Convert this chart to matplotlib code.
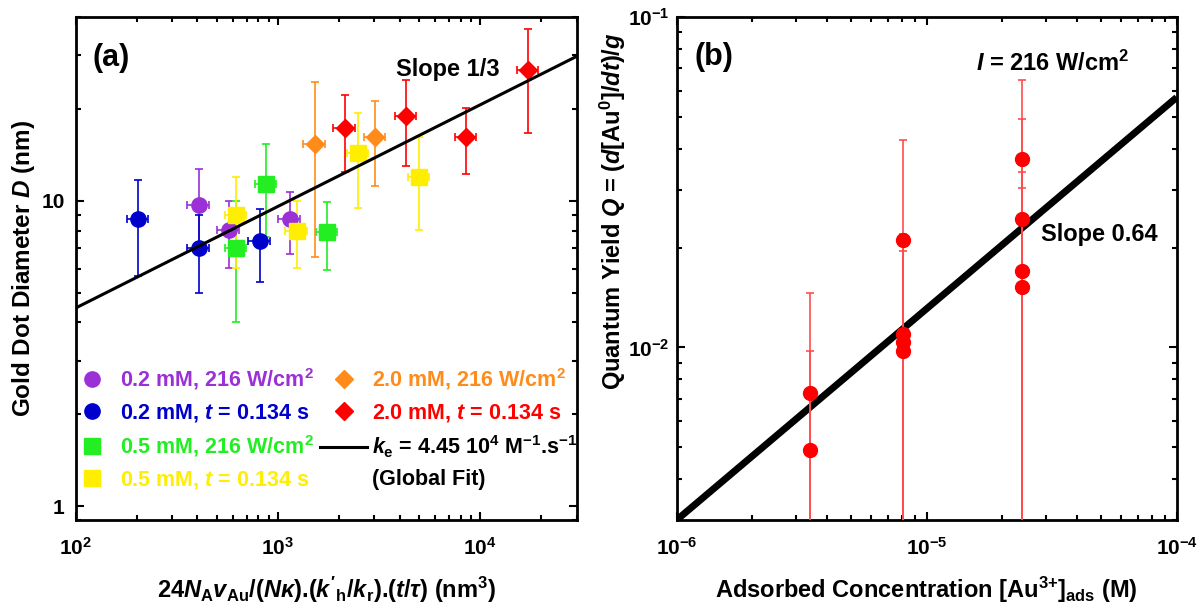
#!/usr/bin/env python3
"""
Gold dot size vs. growth parameter (a) and quantum yield vs. adsorbed
Au(III) concentration (b). Both panels log-log.

Output: out.png
"""
import numpy as np
import matplotlib
matplotlib.use('Agg')
import matplotlib.pyplot as plt
from matplotlib.lines import Line2D
from matplotlib.ticker import NullFormatter

# ---- panel (a) data: x in nm^3, D in nm, bar ends (low/high) in nm ----
purple_x = [405, 570, 1143]
purple_d = [9.7, 8.04, 8.73]
purple_lo = [7.3, 6.03, 6.71]
purple_hi = [12.7, 10.0, 10.7]

blue_x = [204, 405, 811]
blue_d = [8.73, 7.0, 7.42]
blue_lo = [5.69, 4.99, 5.41]
blue_hi = [11.7, 9.0, 9.4]

green_x = [621, 877, 1754]
green_d = [7.0, 11.4, 7.9]
green_lo = [4.0, 7.6, 5.92]
green_hi = [10.0, 15.4, 9.9]

yellow_x = [621, 1236, 2483, 4966]
yellow_d = [9.0, 7.98, 14.4, 12.0]
yellow_lo = [6.03, 6.03, 9.5, 8.04]
yellow_hi = [12.0, 10.0, 19.5, 16.2]

orange_x = [1517, 3034]
orange_d = [15.4, 16.2]
orange_lo = [6.53, 11.2]
orange_hi = [24.5, 21.2]

red_x = [2138, 4285, 8551, 17180]
red_d = [17.3, 19.0, 16.2, 26.8]
red_lo = [12.4, 13.0, 12.3, 16.7]
red_hi = [22.3, 25.0, 20.2, 36.5]

x_rel_err = 0.12  # horizontal bars, fraction of x

# global fit line (slope 1/3), end points
fit_a_x = [1e2, 3e4]
fit_a_d = [4.46, 29.8]

# ---- panel (b) data: adsorbed conc (M), quantum yield, upper bar end ----
conc = [3.42e-6, 3.42e-6,
        8.05e-6, 8.05e-6, 8.05e-6, 8.05e-6,
        2.40e-5, 2.40e-5, 2.40e-5, 2.40e-5]
qy = [0.0073, 0.00489,
      0.0212, 0.0110, 0.0104, 0.00977,
      0.0371, 0.02455, 0.0170, 0.0152]
qy_hi = [0.0146, 0.00977,
         0.0424, 0.0220, 0.0208, 0.0196,
         0.0645, 0.0491, 0.0340, 0.0304]

fit_b_x = [1e-6, 1e-4]
fit_b_q = [0.0030, 0.0572]

PURPLE = '#9b30d6'
BLUE = '#0000cc'
GREEN = '#22ee22'
YELLOW = '#ffee00'
ORANGE = '#ff8c1a'
RED = '#ff0000'

plt.rcParams['font.family'] = ['Liberation Sans', 'DejaVu Sans']
plt.rcParams['font.weight'] = 'bold'
plt.rcParams['axes.labelweight'] = 'bold'
plt.rcParams['axes.unicode_minus'] = False
plt.rcParams['mathtext.fontset'] = 'custom'
plt.rcParams['mathtext.rm'] = 'Liberation Sans:bold'
plt.rcParams['mathtext.it'] = 'Liberation Sans:bold:italic'
plt.rcParams['mathtext.bf'] = 'Liberation Sans:bold'


def style_axes(ax):
    for sp in ax.spines.values():
        sp.set_linewidth(2.0)
    ax.tick_params(which='both', direction='in', top=True, right=True,
                   width=1.5, labelsize=15)
    ax.tick_params(which='major', length=6)
    ax.tick_params(which='minor', length=3.5)
    ax.tick_params(axis='x', which='both', pad=12)
    ax.tick_params(axis='y', which='both', pad=8)
    ax.xaxis.set_minor_formatter(NullFormatter())
    ax.yaxis.set_minor_formatter(NullFormatter())


def draw_series(ax, x, d, lo, hi, color, marker, ms):
    x = np.asarray(x, float)
    d = np.asarray(d, float)
    yerr = [d - np.asarray(lo), np.asarray(hi) - d]
    ax.errorbar(x, d, yerr=yerr, xerr=x * x_rel_err, fmt=marker, ms=ms,
                color=color, mec=color, ecolor=color, elinewidth=1.2,
                capsize=3, capthick=1.2, zorder=2)


def main():
    fig = plt.figure(figsize=(12.04, 6.10), dpi=100)

    # ===== (a) =====
    ax = fig.add_axes([0.0629, 0.1475, 0.4161, 0.8241])
    ax.set_xscale('log')
    ax.set_yscale('log')

    draw_series(ax, purple_x, purple_d, purple_lo, purple_hi, PURPLE, 'o', 11)
    draw_series(ax, blue_x, blue_d, blue_lo, blue_hi, BLUE, 'o', 11)
    draw_series(ax, green_x, green_d, green_lo, green_hi, GREEN, 's', 11)
    draw_series(ax, yellow_x, yellow_d, yellow_lo, yellow_hi, YELLOW, 's', 11)
    draw_series(ax, orange_x, orange_d, orange_lo, orange_hi, ORANGE, 'D', 9)
    draw_series(ax, red_x, red_d, red_lo, red_hi, RED, 'D', 9)
    ax.plot(fit_a_x, fit_a_d, color='k', lw=2.2, zorder=4)

    ax.set_xlim(1e2, 3e4)
    ax.set_ylim(0.9, 40)
    ax.set_yticks([1, 10], labels=['1', '10'])
    style_axes(ax)

    ax.set_xlabel(r"24$N_\mathrm{A}v_\mathrm{Au}$/($N\kappa$)."
                  r"($k'_\mathrm{h}$/$k_\mathrm{r}$).($t$/$\tau$) (nm$^3$)",
                  fontsize=17, labelpad=12)
    ax.set_ylabel(r"Gold Dot Diameter $D$ (nm)", fontsize=17.5)
    ax.yaxis.set_label_coords(-0.077, 0.5)

    ax.text(0.034, 0.92, '(a)', transform=ax.transAxes, fontsize=22,
            va='center', ha='left')
    ax.text(0.639, 0.897, 'Slope 1/3', transform=ax.transAxes, fontsize=17,
            va='center', ha='left')

    # legend: markers only, two columns, text in series colour
    handles = [
        Line2D([], [], ls='none', marker='o', ms=11, color=PURPLE),
        Line2D([], [], ls='none', marker='o', ms=11, color=BLUE),
        Line2D([], [], ls='none', marker='s', ms=11, color=GREEN),
        Line2D([], [], ls='none', marker='s', ms=11, color=YELLOW),
        Line2D([], [], ls='none', marker='D', ms=9, color=ORANGE),
        Line2D([], [], ls='none', marker='D', ms=9, color=RED),
        Line2D([], [], color='k', lw=2.2),
        Line2D([], [], ls='none'),
    ]
    labels = [
        r"0.2 mM, 216 W/cm$^2$",
        r"0.2 mM, $t$ = 0.134 s",
        r"0.5 mM, 216 W/cm$^2$",
        r"0.5 mM, $t$ = 0.134 s",
        r"2.0 mM, 216 W/cm$^2$",
        r"2.0 mM, $t$ = 0.134 s",
        r"$k_\mathrm{e}$ = 4.45 10$^4$ M$^{-1}$.s$^{-1}$",
        "(Global Fit)",
    ]
    colors = [PURPLE, BLUE, GREEN, YELLOW, ORANGE, RED, 'k', 'k']
    ax.legend(handles, labels, ncol=2, loc='lower left',
              bbox_to_anchor=(-0.0154, 0.058), frameon=False,
              fontsize=15.5, labelcolor=colors, handlelength=2.2,
              handletextpad=0.2, columnspacing=0.3, labelspacing=0.45,
              borderpad=0, borderaxespad=0)

    # ===== (b) =====
    bx = fig.add_axes([0.5620, 0.1475, 0.4153, 0.8241])
    bx.set_xscale('log')
    bx.set_yscale('log')

    c = np.asarray(conc)
    q = np.asarray(qy)
    bx.plot(fit_b_x, fit_b_q, color='k', lw=5, solid_capstyle='butt', zorder=2)
    bx.errorbar(c, q, yerr=[q, np.asarray(qy_hi) - q], fmt='o', ms=10,
                color=RED, ecolor='#ff4d4d', elinewidth=1.2, capsize=3,
                capthick=1.2, zorder=3)

    bx.set_xlim(1e-6, 1e-4)
    bx.set_ylim(0.003, 0.1)
    style_axes(bx)
    bx.tick_params(axis='y', which='both', pad=5)

    bx.set_xlabel(r"Adsorbed Concentration [Au$^{3{+}}$]$_\mathrm{ads}$ (M)",
                  fontsize=17, labelpad=12)
    bx.set_ylabel(r"Quantum Yield $Q$ = ($d$[Au$^0$]/$dt$)/$g$", fontsize=17)
    bx.yaxis.set_label_coords(-0.098, 0.615)

    bx.text(0.0356, 0.922, '(b)', transform=bx.transAxes, fontsize=22,
            va='center', ha='left')
    bx.text(0.598, 0.909, r"$I$ = 216 W/cm$^2$", transform=bx.transAxes,
            fontsize=17, va='center', ha='left')
    bx.text(0.728, 0.567, 'Slope 0.64', transform=bx.transAxes, fontsize=17,
            va='center', ha='left')

    fig.savefig('out.png', dpi=100)
    plt.close(fig)


if __name__ == '__main__':
    main()
